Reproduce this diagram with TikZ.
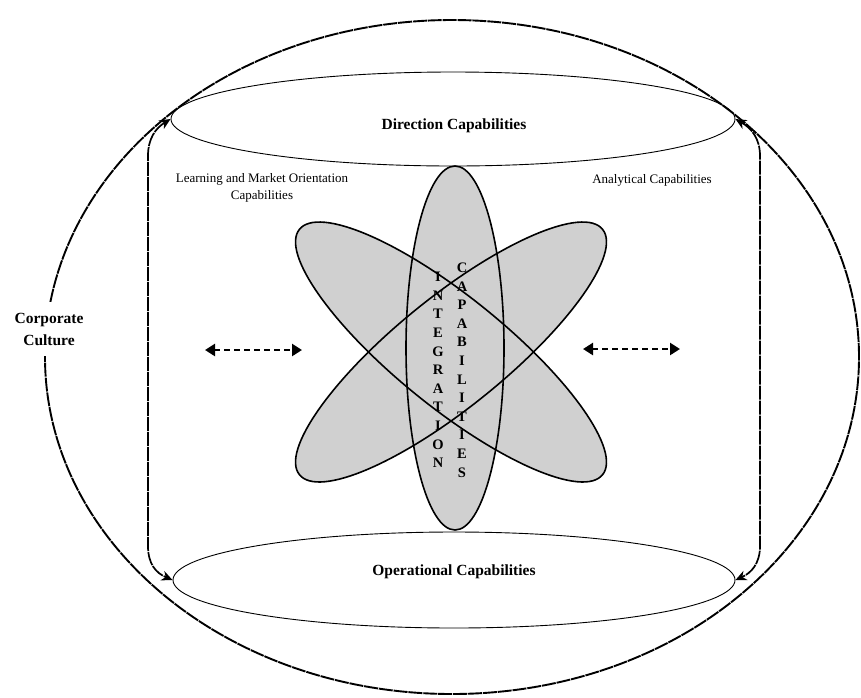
\documentclass[tikz,border=0pt]{standalone}
\usepackage{fontspec}
\setmainfont{Liberation Serif}
\usetikzlibrary{shapes.geometric,arrows.meta}
\definecolor{atomgray}{HTML}{D0D0D0}
\begin{document}
\begin{tikzpicture}[x=1pt,y=-1pt,
  outerline/.style={draw, ellipse, inner sep=0pt, line width=1.9pt, dash pattern=on 14pt off 0.9pt},
  capring/.style={draw, ellipse, inner sep=0pt, line width=0.9pt},
  atom/.style={draw, ellipse, inner sep=0pt, line width=1.6pt},
  conn/.style={line width=1.7pt, dash pattern=on 14pt off 1pt, {Stealth[length=11pt,width=10pt]}-{Stealth[length=11pt,width=10pt]}},
  dblarrow/.style={line width=2.4pt, dash pattern=on 6pt off 4pt, {Triangle[length=10pt,width=12pt]}-{Triangle[length=10pt,width=12pt]}},
  boldlbl/.style={font=\bfseries\fontsize{15.5}{22}\selectfont, align=center, inner sep=1pt},
  plainlbl/.style={font=\fontsize{13}{17}\selectfont, align=center, inner sep=1pt},
  letters/.style={font=\bfseries\fontsize{14.5}{18.6}\selectfont, align=center, inner sep=0pt}
]
\useasboundingbox (0,0) rectangle (861,697);

% outer corporate culture ellipse
\node[outerline, minimum width=814pt, minimum height=674pt] (outer) at (452,357) {};

% gray fills of the atom
\fill[atomgray, rotate around={-39:(451,352)}] (451,352) ellipse [x radius=195, y radius=55];
\fill[atomgray, rotate around={39:(451,352)}] (451,352) ellipse [x radius=195, y radius=55];
\fill[atomgray] (455,348) ellipse [x radius=49, y radius=182];

% atom outlines
\node[atom, rotate=-39, minimum width=390pt, minimum height=110pt] (e1) at (451,352) {};
\node[atom, rotate=39, minimum width=390pt, minimum height=110pt] (e2) at (451,352) {};
\node[atom, minimum width=98pt, minimum height=364pt] (ev) at (455,348) {};

% top and bottom capability ellipses
\node[capring, minimum width=564pt, minimum height=94pt] (dir) at (453,119) {};
\node[capring, minimum width=562pt, minimum height=96pt] (oper) at (454,580) {};

% labels
\node[boldlbl] (dirlbl) at (454,126) {Direction Capabilities};
\node[boldlbl] (oplbl) at (454,572) {Operational Capabilities};
\node[boldlbl, fill=white, inner xsep=3pt, inner ysep=11pt] (cc) at (49,329) {Corporate\\Culture};
\node[plainlbl] (lmo) at (262,188) {Learning and Market Orientation\\Capabilities};
\node[plainlbl] (anl) at (652,180) {Analytical Capabilities};
\node[letters] (integ) at (438,370) {I\\N\\T\\E\\G\\R\\A\\T\\I\\O\\N};
\node[letters] (capab) at (462,370) {C\\A\\P\\A\\B\\I\\L\\I\\T\\I\\E\\S};

% side connectors
\draw[conn] (dir.west) .. controls (156,128) and (148,138) .. (148,156) -- (148,546) .. controls (148,564) and (156,573) .. (oper.west);
\draw[conn] (dir.east) .. controls (751,128) and (760,138) .. (760,156) -- (760,546) .. controls (760,564) and (751,573) .. (oper.east);

% dashed double arrows
\coordinate (la) at (205,350);
\coordinate (lb) at (302,350);
\coordinate (ra) at (583,349);
\coordinate (rb) at (680,349);
\draw[dblarrow] (la) -- (lb);
\draw[dblarrow] (ra) -- (rb);
\end{tikzpicture}
\end{document}
